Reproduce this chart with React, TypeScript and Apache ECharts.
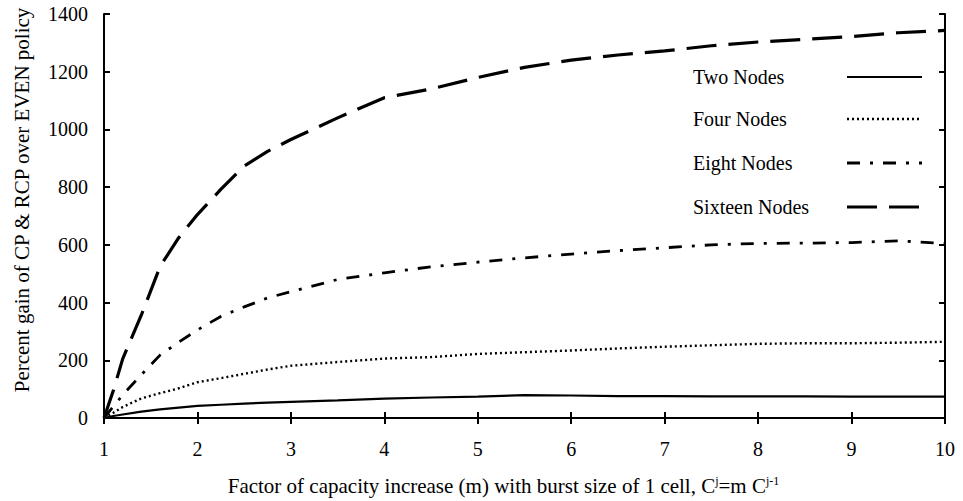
import React, { useEffect, useRef } from "react";
import * as echarts from "echarts";

const mValues = [1, 1.1, 1.2, 1.4, 1.6, 1.8, 2, 2.25, 2.5, 2.75, 3, 3.5, 4, 4.5, 5, 5.5, 6, 6.5, 7, 7.5, 8, 8.5, 9, 9.5, 10];
const twoNodes = [0, 7, 12, 22, 30, 36, 42, 46, 50, 53, 56, 61, 67, 71, 74, 79, 78, 76, 76, 75, 75, 75, 74, 74, 74];
const fourNodes = [0, 18, 38, 68, 86, 103, 124, 138, 153, 168, 181, 194, 206, 211, 222, 228, 234, 241, 247, 252, 257, 259, 259, 261, 264];
const eightNodes = [0, 40, 80, 150, 218, 263, 305, 352, 385, 416, 438, 480, 503, 524, 540, 555, 568, 580, 590, 600, 605, 606, 608, 614, 605];
const sixteenNodes = [0, 95, 205, 357, 525, 625, 705, 792, 873, 924, 965, 1040, 1110, 1140, 1180, 1215, 1240, 1258, 1272, 1290, 1303, 1312, 1322, 1335, 1343];
const seriesNames = ["Two Nodes", "Four Nodes", "Eight Nodes", "Sixteen Nodes"];

const FONT = "Liberation Serif";
const dashes: (number[] | null)[] = [null, [2, 3], [13, 10, 3, 10], [30, 12]];
const widths = [2.2, 2.4, 2.8, 3.2];

export default function App() {
  const ref = useRef<HTMLDivElement>(null);
  useEffect(() => {
    if (!ref.current) return;
    const chart = echarts.init(ref.current, undefined, { renderer: "svg" });
    const allData = [twoNodes, fourNodes, eightNodes, sixteenNodes];
    const series = allData.map((vals, i) => ({
      name: seriesNames[i],
      type: "line",
      data: mValues.map((m, k) => [m, vals[k]]),
      showSymbol: false,
      smooth: false,
      lineStyle: { color: "#000", width: widths[i], type: dashes[i] ? dashes[i] : "solid" },
    }));
    const legendX1 = 847;
    const legendX2 = 922;
    const legendRows = [77, 119, 163, 207];
    const legendGraphics: any[] = [];
    seriesNames.forEach((n, i) => {
      legendGraphics.push({
        type: "text",
        x: 693,
        y: legendRows[i],
        style: { text: n, fontFamily: FONT, fontSize: 20, fill: "#000", verticalAlign: "middle", align: "left" },
      });
      legendGraphics.push({
        type: "line",
        shape: { x1: legendX1, y1: legendRows[i], x2: legendX2, y2: legendRows[i] },
        style: { stroke: "#000", lineWidth: widths[i], lineDash: dashes[i] || undefined },
      });
    });
    const axisLine = { show: true, lineStyle: { color: "#000", width: 2 } };
    const tick = { show: true, inside: true, length: 6, lineStyle: { color: "#000", width: 2 } };
    chart.setOption({
      animation: false,
      grid: { left: 104, right: 18, top: 14, bottom: 83 },
      xAxis: [
        {
          type: "value", min: 1, max: 10, interval: 1,
          axisLine, axisTick: tick, splitLine: { show: false },
          axisLabel: { color: "#000", fontFamily: FONT, fontSize: 20, margin: 21, formatter: (v: number) => String(v) },
          name: "Factor of capacity increase (m) with burst size of 1 cell, C{s|j}=m C{s|j-1}",
          nameLocation: "middle", nameGap: 57,
          nameTextStyle: {
            color: "#000", fontFamily: FONT, fontSize: 21, padding: [0, 42, 0, 0],
            rich: { s: { fontSize: 12, fontFamily: FONT, color: "#000", verticalAlign: "top", lineHeight: 21 } },
          },
        },
        {
          type: "value", min: 1, max: 10, interval: 1, position: "top",
          axisLine, axisTick: tick, axisLabel: { show: false }, splitLine: { show: false },
        },
      ],
      yAxis: [
        {
          type: "value", min: 0, max: 1400, interval: 200,
          axisLine, axisTick: tick, splitLine: { show: false },
          axisLabel: { color: "#000", fontFamily: FONT, fontSize: 20, margin: 16, formatter: (v: number) => String(v) },
        },
        {
          type: "value", min: 0, max: 1400, interval: 200, position: "right",
          axisLine, axisTick: tick, axisLabel: { show: false }, splitLine: { show: false },
        },
      ],
      graphic: [
        {
          type: "text",
          x: 22, y: 200, rotation: Math.PI / 2,
          style: {
            text: "Percent gain of CP & RCP over EVEN policy",
            fontFamily: FONT, fontSize: 21, fill: "#000", align: "center", verticalAlign: "middle",
          },
        },
        ...legendGraphics,
      ],
      series,
    });
    return () => chart.dispose();
  }, []);
  return <div ref={ref} style={{ width: 963, height: 501, position: "absolute", left: 0, top: 0, background: "#fff" }} />;
}
